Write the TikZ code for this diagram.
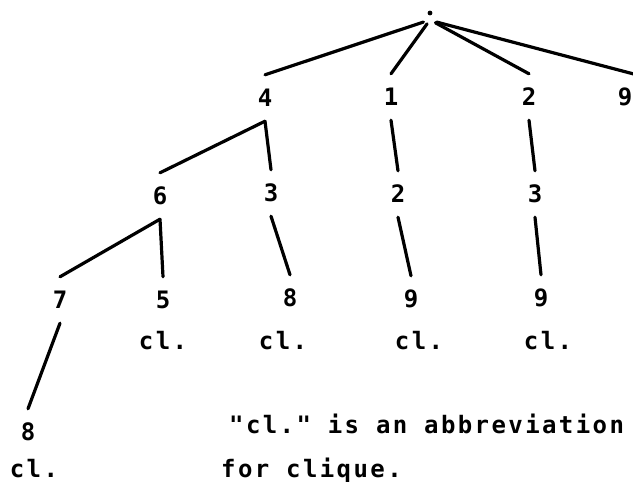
\documentclass[tikz,border=0pt]{standalone}
\usepackage{fontspec}
\newfontfamily\digfamily{DejaVu Sans Mono}
\newfontfamily\txtfamily[LetterSpace=10]{DejaVu Sans Mono}
\tikzset{
  dig/.style={font=\digfamily\bfseries\fontsize{24}{28}\selectfont, inner sep=0pt, minimum height=46pt, minimum width=12pt},
  lbl/.style={font=\txtfamily\bfseries\fontsize{24}{28}\selectfont, inner sep=0pt, anchor=base},
  txt/.style={font=\txtfamily\bfseries\fontsize{24}{28}\selectfont, inner sep=0pt, anchor=base west},
  edge/.style={line width=3.2pt, line cap=round}
}
\begin{document}
\begin{tikzpicture}[x=1pt,y=-1pt]
\useasboundingbox (0,0) rectangle (633,486);
\clip (0,0) rectangle (633,486);
% root
\node (root) [circle, minimum size=22pt, inner sep=0pt] at (430,13) {};
\fill (root.center) circle (2.4pt);
% level 1
\node[dig] (n4) at (265,98) {4};
\node[dig] (n1) at (391,97) {1};
\node[dig] (n2) at (529,97) {2};
\node[dig] (n9) at (625,97) {9};
% level 2
\node[dig] (n6) at (160,196) {6};
\node[dig] (n3) at (271,193) {3};
\node[dig] (n12) at (398,194) {2};
\node[dig] (n23) at (535,194) {3};
% level 3
\node[dig] (n7) at (60,300) {7};
\node[dig] (n5) at (163,300) {5};
\node[dig] (n8) at (290,298) {8};
\node[dig] (n129) at (411,299) {9};
\node[dig] (n239) at (541,298) {9};
% level 4
\node[dig] (n78) at (28,432) {8};
% clique labels
\node[lbl] (c5) at (163,350) {cl.};
\node[lbl] (c8) at (283,350) {cl.};
\node[lbl] (c129) at (419,350) {cl.};
\node[lbl] (c239) at (548,350) {cl.};
\node[lbl] (c78) at (34,478) {cl.};
% note
\node[txt] (note1) at (229,434) {"cl." is an abbreviation};
\node[txt] (note2) at (221,478) {for clique.};
% edges
\draw[edge] (root.234) -- (n4.north);
\draw[edge] (root.255) -- (n1.north);
\draw[edge] (root.299) -- (n2.north);
\draw[edge] (root.306) -- ([xshift=8pt]n9.north);
\draw[edge] (n4.south) -- (n6.north);
\draw[edge] (n4.south) -- (n3.north);
\draw[edge] (n1.south) -- (n12.north);
\draw[edge] (n2.south) -- (n23.north);
\draw[edge] (n6.south) -- (n7.north);
\draw[edge] (n6.south) -- (n5.north);
\draw[edge] (n3.south) -- (n8.north);
\draw[edge] (n12.south) -- (n129.north);
\draw[edge] (n23.south) -- (n239.north);
\draw[edge] (n7.south) -- (n78.north);
\end{tikzpicture}
\end{document}
